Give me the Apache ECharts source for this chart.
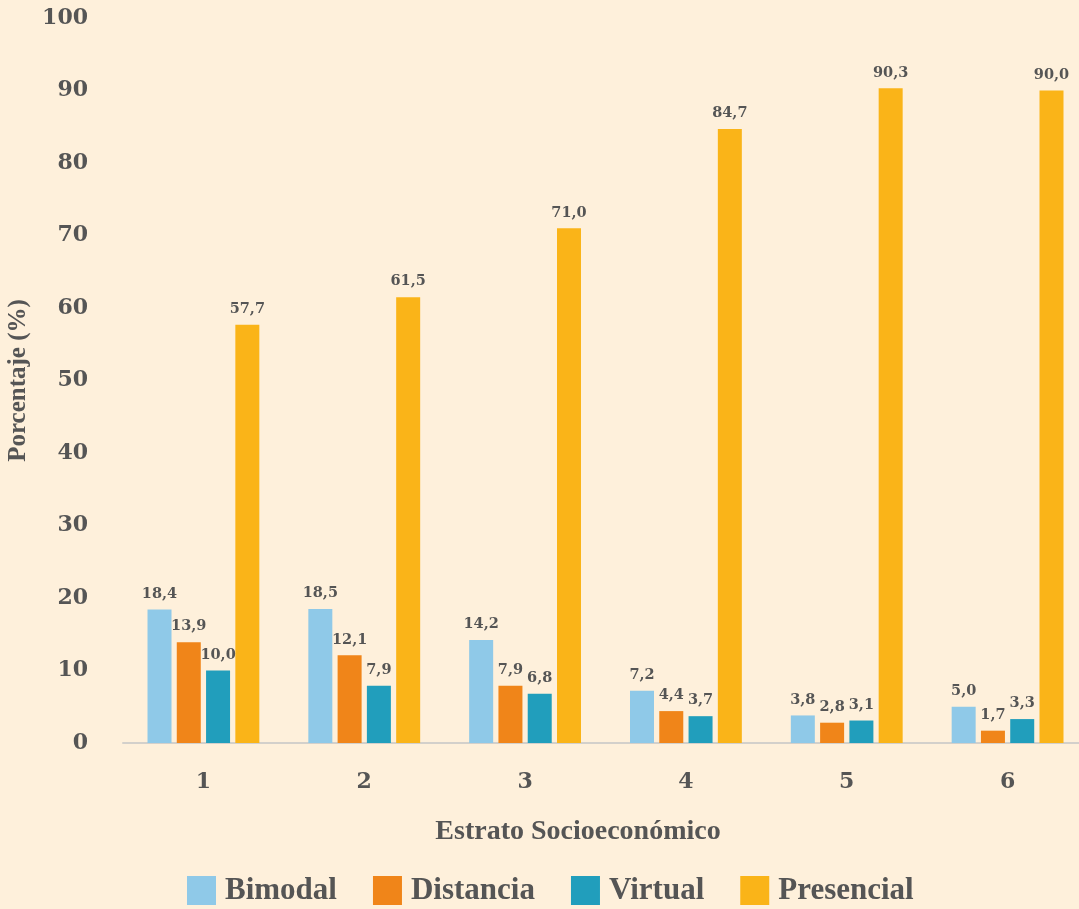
<!DOCTYPE html>
<html>
<head>
<meta charset="utf-8">
<script src="https://cdn.jsdelivr.net/npm/echarts@6/dist/echarts.min.js"></script>
<style>
html,body{margin:0;padding:0;background:#FEF0DB;}
#chart{width:1079px;height:909px;}
</style>
</head>
<body>
<div id="chart"></div>
<script>
const categories = ['1', '2', '3', '4', '5', '6'];
const bimodal = [18.4, 18.5, 14.2, 7.2, 3.8, 5.0];
const distancia = [13.9, 12.1, 7.9, 4.4, 2.8, 1.7];
const virtual = [10.0, 7.9, 6.8, 3.7, 3.1, 3.3];
const presencial = [57.7, 61.5, 71.0, 84.7, 90.3, 90.0];
const seriesNames = ['Bimodal', 'Distancia', 'Virtual', 'Presencial'];
const colors = ['#8FC9E8', '#F08519', '#219EBC', '#FAB418'];
const yTicks = [0, 10, 20, 30, 40, 50, 60, 70, 80, 90, 100];

const numFont = 'DejaVu Serif';
const txtFont = 'Liberation Serif';
const txtColor = '#555555';

function fmt(v) { return v.toFixed(1).replace('.', ','); }

function makeSeries(name, data, color) {
  return {
    name: name,
    type: 'bar',
    data: data,
    barWidth: 24,
    barGap: '22%',
    itemStyle: { color: color },
    label: {
      show: true,
      position: 'top',
      distance: 8,
      formatter: p => fmt(p.value),
      fontFamily: numFont,
      fontWeight: 'bold',
      fontSize: 14.5,
      color: txtColor
    }
  };
}

const chart = echarts.init(document.getElementById('chart'), null, { renderer: 'canvas' });
chart.setOption({
  backgroundColor: '#FEF0DB',
  animation: false,
  grid: { left: 123, width: 965, top: 18, bottom: 166, containLabel: false, outerBoundsMode: 'none' },
  legend: {
    data: seriesNames,
    left: 182,
    top: 870,
    itemWidth: 29,
    itemHeight: 29,
    itemGap: 36,
    icon: 'rect',
    textStyle: { fontFamily: txtFont, fontWeight: 'bold', fontSize: 31, color: txtColor, padding: [0, 0, 0, 4] }
  },
  xAxis: {
    type: 'category',
    data: categories,
    axisLine: { show: true, lineStyle: { color: '#D3D0CB', width: 2 } },
    axisTick: { show: false },
    axisLabel: { margin: 28, fontFamily: numFont, fontWeight: 'bold', fontSize: 22, color: txtColor }
  },
  yAxis: {
    type: 'value',
    min: yTicks[0],
    max: yTicks[yTicks.length - 1],
    interval: 10,
    name: 'Porcentaje (%)',
    nameLocation: 'middle',
    nameGap: 83,
    nameRotate: 90,
    nameTextStyle: { fontFamily: txtFont, fontWeight: 'bold', fontSize: 25, color: txtColor },
    axisLine: { show: false },
    axisTick: { show: false },
    splitLine: { show: false },
    axisLabel: { margin: 35, fontFamily: numFont, fontWeight: 'bold', fontSize: 22, color: txtColor }
  },
  graphic: [{
    type: 'text',
    x: 578,
    y: 832,
    style: {
      text: 'Estrato Socioeconómico',
      align: 'center',
      verticalAlign: 'middle',
      fontFamily: txtFont,
      fontWeight: 'bold',
      fontSize: 28,
      fill: txtColor
    }
  }],
  series: [
    makeSeries(seriesNames[0], bimodal, colors[0]),
    makeSeries(seriesNames[1], distancia, colors[1]),
    makeSeries(seriesNames[2], virtual, colors[2]),
    makeSeries(seriesNames[3], presencial, colors[3])
  ]
});
</script>
</body>
</html>
